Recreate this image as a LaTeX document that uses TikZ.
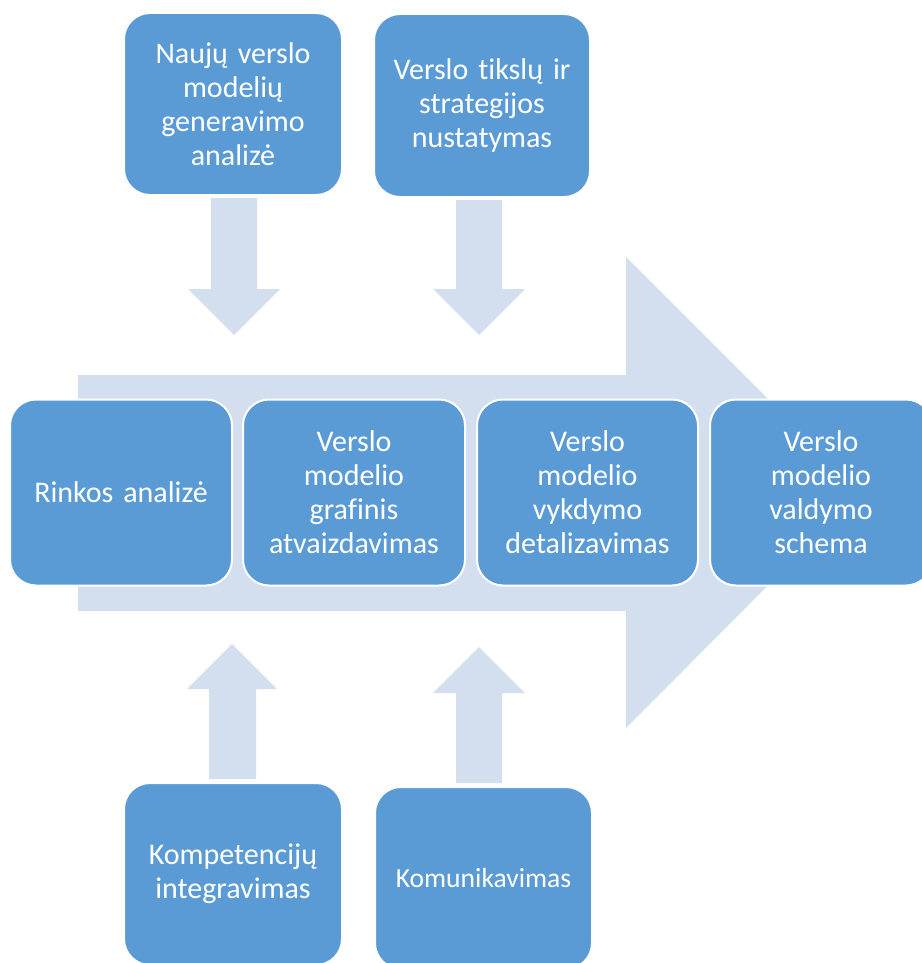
\documentclass[tikz,border=0pt]{standalone}
\usepackage{fontspec}
\setmainfont{Carlito}[RawFeature={-liga;-clig;-dlig;-calt}]
\definecolor{boxblue}{HTML}{5B9BD5}
\definecolor{arrowblue}{HTML}{D3DFEF}
\begin{document}
\begin{tikzpicture}[x=1pt,y=-1pt,
  stagebox/.style={rectangle, rounded corners=26pt, fill=boxblue, draw=white,
    line width=2pt, inner sep=0pt, align=center, text=white,
    font=\fontsize{30}{34}\selectfont},
  blockarrow/.style={fill=arrowblue, draw=none}]
\useasboundingbox (0,0) rectangle (921,963);

% large process arrow behind the middle row
\path[blockarrow] (78,375) -- (626,375) -- (626,257) -- (861,492)
  -- (626,728) -- (626,611) -- (78,611) -- cycle;

% downward arrows from the top boxes
\path[blockarrow] (211,198) -- (257,198) -- (257,289) -- (280,289)
  -- (234,335) -- (188,289) -- (211,289) -- cycle;
\path[blockarrow] (456,200) -- (502,200) -- (502,289) -- (525,289)
  -- (479,335) -- (433,289) -- (456,289) -- cycle;

% upward arrows from the bottom boxes
\path[blockarrow] (209,779) -- (256,779) -- (256,689) -- (277,689)
  -- (232,644) -- (187,689) -- (209,689) -- cycle;
\path[blockarrow] (456,783) -- (502,783) -- (502,693) -- (525,693)
  -- (479,647) -- (433,693) -- (456,693) -- cycle;

% top boxes
\node[stagebox, minimum width=218pt, minimum height=182pt, text width=200pt]
  (gen) at (233,104) {Naujų verslo\\modelių\\generavimo\\analizė};
\node[stagebox, minimum width=216pt, minimum height=183pt, text width=200pt]
  (goal) at (482,105.5) {Verslo t\kern0pt ikslų ir\\strategijos\\nustatymas};

% middle row of stages
\node[stagebox, minimum width=222pt, minimum height=186pt, text width=205pt]
  (market) at (121,492.5) {Rinkos analizė};
\node[stagebox, minimum width=222pt, minimum height=186pt, text width=205pt]
  (graph) at (354,492.5) {Verslo\\modelio\\grafinis\\atvaizdavimas};
\node[stagebox, minimum width=221pt, minimum height=186pt, text width=205pt]
  (detail) at (587.5,492.5) {Verslo\\modelio\\vykdymo\\detalizavimas};
\node[stagebox, minimum width=222pt, minimum height=186pt, text width=205pt]
  (manage) at (821,492.5) {Verslo\\modelio\\valdymo\\schema};

% bottom boxes
\node[stagebox, minimum width=218pt, minimum height=182pt, text width=200pt]
  (comp) at (233,874) {Kompetencijų\\integravimas};
\node[stagebox, minimum width=217pt, minimum height=182pt, text width=200pt,
  font=\fontsize{27.6}{32}\selectfont]
  (comm) at (483.5,878) {Komunikavimas};
\end{tikzpicture}
\end{document}
